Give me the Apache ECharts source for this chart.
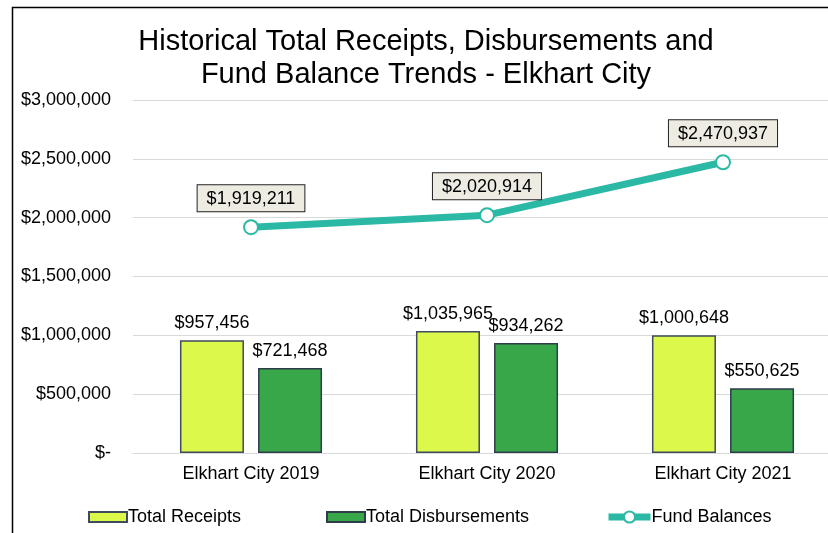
<!DOCTYPE html>
<html><head><meta charset="utf-8">
<script src="https://cdn.jsdelivr.net/npm/echarts@6/dist/echarts.min.js"></script>
<style>html,body{margin:0;padding:0;background:#fff;overflow:hidden}#c{width:841px;height:533px}</style>
</head><body><div id="c"></div>
<script>
const categories = ['Elkhart City 2019', 'Elkhart City 2020', 'Elkhart City 2021'];
const totalReceipts = [957456, 1035965, 1000648];
const totalDisbursements = [721468, 934262, 550625];
const fundBalances = [1919211, 2020914, 2470937];
const yTicks = { min: 0, max: 3000000, interval: 500000 };

const FONT = '"Liberation Sans", Arial, sans-serif';
const money = v => v === 0 ? '$-' : '$' + Math.round(v).toLocaleString('en-US');

const legendText = { fontFamily: FONT, fontSize: 18, color: '#000', padding: [0, 0, 0, -4] };

const chart = echarts.init(document.getElementById('c'), null, { renderer: 'canvas' });
chart.setOption({
  animation: false,
  backgroundColor: '#fff',
  textStyle: { fontFamily: FONT },
  graphic: [{
    type: 'rect', silent: true, z: 100,
    shape: { x: 12.5, y: 7.5, width: 900, height: 900 },
    style: { fill: 'none', stroke: '#000', lineWidth: 1.5 }
  }],
  title: {
    text: 'Historical Total Receipts, Disbursements and\nFund Balance Trends - Elkhart City',
    left: 421, textAlign: 'center', top: 20,
    textStyle: { fontFamily: FONT, fontSize: 29, fontWeight: 'normal', color: '#000', lineHeight: 33 }
  },
  legend: [
    { data: ['Total Receipts'], left: 88, top: 508, padding: 0, icon: 'rect', itemWidth: 38, itemHeight: 10,
      textStyle: legendText },
    { data: ['Total Disbursements'], left: 326, top: 508, padding: 0, icon: 'rect', itemWidth: 38, itemHeight: 10,
      textStyle: legendText },
    { data: ['Fund Balances'], left: 605, top: 508, padding: 0, itemWidth: 42, itemHeight: 14,
      lineStyle: { width: 7 }, textStyle: legendText }
  ],
  grid: { left: 133, right: 0, top: 100, bottom: 80, containLabel: false },
  xAxis: {
    type: 'category', data: categories,
    axisLine: { lineStyle: { color: '#d9d9d9', width: 1 } },
    axisTick: { show: false },
    axisLabel: { fontFamily: FONT, fontSize: 18, color: '#000', margin: 12 }
  },
  yAxis: {
    type: 'value', min: yTicks.min, max: yTicks.max, interval: yTicks.interval,
    axisLine: { show: false }, axisTick: { show: false },
    splitLine: { lineStyle: { color: '#d9d9d9', width: 1 } },
    axisLabel: { fontFamily: FONT, fontSize: 18, color: '#000', margin: 22, formatter: money }
  },
  series: [
    {
      name: 'Total Receipts', type: 'bar', data: totalReceipts,
      barWidth: 64, barGap: '22%',
      itemStyle: { color: '#dcf84a', borderColor: '#3f4a5c', borderWidth: 1.5 },
      label: { show: true, position: 'top', distance: 8, formatter: p => money(p.value),
        fontFamily: FONT, fontSize: 18, color: '#000' }
    },
    {
      name: 'Total Disbursements', type: 'bar', data: totalDisbursements,
      barWidth: 64,
      itemStyle: { color: '#38a749', borderColor: '#2d3d4a', borderWidth: 1.5 },
      label: { show: true, position: 'top', distance: 8, formatter: p => money(p.value),
        fontFamily: FONT, fontSize: 18, color: '#000' }
    },
    {
      name: 'Fund Balances', type: 'line', data: fundBalances,
      symbol: 'circle', symbolSize: 14, showAllSymbol: true,
      lineStyle: { color: '#2bb9a5', width: 7 },
      itemStyle: { color: '#fff', borderColor: '#2bb9a5', borderWidth: 2 },
      label: { show: true, position: 'top', distance: 8, formatter: p => money(p.value),
        fontFamily: FONT, fontSize: 18, color: '#000',
        backgroundColor: '#eeece2', borderColor: '#222', borderWidth: 1,
        padding: [5, 9, 3, 9] },
      z: 5
    }
  ]
});
</script></body></html>
